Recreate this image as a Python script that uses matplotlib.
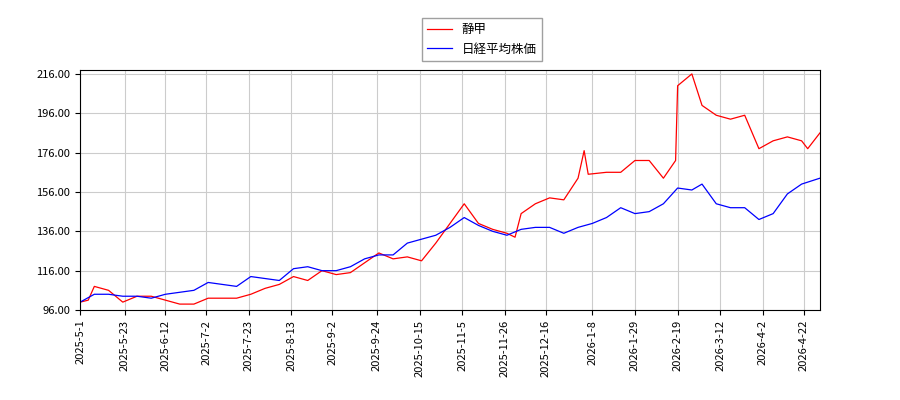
import matplotlib
matplotlib.use('Agg')
import matplotlib.pyplot as plt
import pandas as pd

plt.rcParams['font.family'] = ['Noto Sans CJK JP', 'DejaVu Sans']

# 静甲
red_dates = ['2025-05-01', '2025-05-05', '2025-05-08', '2025-05-15', '2025-05-22', '2025-05-29', '2025-06-05',
             '2025-06-12', '2025-06-19', '2025-06-26', '2025-07-03', '2025-07-10', '2025-07-17',
             '2025-07-24', '2025-07-31', '2025-08-07', '2025-08-14', '2025-08-21', '2025-08-28',
             '2025-09-04', '2025-09-11', '2025-09-18', '2025-09-25', '2025-10-02', '2025-10-09',
             '2025-10-16', '2025-10-23', '2025-10-30', '2025-11-06', '2025-11-13', '2025-11-20',
             '2025-11-27', '2025-12-01', '2025-12-04', '2025-12-11', '2025-12-18', '2025-12-25', '2026-01-01',
             '2026-01-04', '2026-01-06', '2026-01-15', '2026-01-22', '2026-01-29', '2026-02-05',
             '2026-02-12', '2026-02-18', '2026-02-19', '2026-02-26', '2026-03-03', '2026-03-10',
             '2026-03-17', '2026-03-24', '2026-03-31', '2026-04-07', '2026-04-14', '2026-04-21',
             '2026-04-24', '2026-04-30']
red_vals = [100, 101, 108, 106, 100, 103, 103, 101, 99, 99, 102, 102, 102, 104, 107, 109, 113, 111, 116,
            114, 115, 120, 125, 122, 123, 121, 130, 140, 150, 140, 137, 135, 133, 145, 150, 153, 152, 163,
            177, 165, 166, 166, 172, 172, 163, 172, 210, 216, 200, 195, 193, 195, 178, 182, 184,
            182, 178, 186]

# 日経平均株価
blue_dates = ['2025-05-01', '2025-05-08', '2025-05-15', '2025-05-22', '2025-05-29', '2025-06-05',
              '2025-06-12', '2025-06-19', '2025-06-26', '2025-07-03', '2025-07-10', '2025-07-17',
              '2025-07-24', '2025-07-31', '2025-08-07', '2025-08-14', '2025-08-21', '2025-08-28',
              '2025-09-04', '2025-09-11', '2025-09-18', '2025-09-25', '2025-10-02', '2025-10-09',
              '2025-10-16', '2025-10-23', '2025-10-30', '2025-11-06', '2025-11-13', '2025-11-20',
              '2025-11-27', '2025-12-04', '2025-12-11', '2025-12-18', '2025-12-25', '2026-01-01',
              '2026-01-08', '2026-01-15', '2026-01-22', '2026-01-29', '2026-02-05', '2026-02-12',
              '2026-02-19', '2026-02-26', '2026-03-03', '2026-03-10', '2026-03-17', '2026-03-24',
              '2026-03-31', '2026-04-07', '2026-04-14', '2026-04-21', '2026-04-30']
blue_vals = [100, 104, 104, 103, 103, 102, 104, 105, 106, 110, 109, 108, 113, 112, 111, 117, 118, 116,
             116, 118, 122, 124, 124, 130, 132, 134, 138, 143, 139, 136, 134, 137, 138, 138, 135, 138,
             140, 143, 148, 145, 146, 150, 158, 157, 160, 150, 148, 148, 142, 145, 155, 160, 163]

tick_labels = ['2025-5-1', '2025-5-23', '2025-6-12', '2025-7-2', '2025-7-23', '2025-8-13', '2025-9-2',
               '2025-9-24', '2025-10-15', '2025-11-5', '2025-11-26', '2025-12-16', '2026-1-8',
               '2026-1-29', '2026-2-19', '2026-3-12', '2026-4-2', '2026-4-22']

red_x = pd.to_datetime(red_dates)
blue_x = pd.to_datetime(blue_dates)

fig = plt.figure(figsize=(9, 4), dpi=100)
ax = fig.add_axes([0.089, 0.225, 0.822, 0.6])
ax.plot(red_x, red_vals, c='red', lw=0.9, label='静甲')
ax.plot(blue_x, blue_vals, c='blue', lw=0.9, label='日経平均株価')

ax.set_xticks(pd.to_datetime(tick_labels))
ax.set_xticklabels(tick_labels, rotation=90, fontsize=8)
ax.set_xlim(pd.Timestamp('2025-05-01'), pd.Timestamp('2026-04-30'))
ax.set_ylim(96, 218)
ax.set_yticks(range(96, 217, 20))
ax.set_yticklabels([f'{v:.2f}' for v in range(96, 217, 20)], fontsize=8)
ax.grid(color='#cccccc', lw=0.8)
fig.legend(loc='upper center', bbox_to_anchor=(0.535, 0.97), fontsize=9, fancybox=False, edgecolor='#888888')
fig.savefig('out.png')
